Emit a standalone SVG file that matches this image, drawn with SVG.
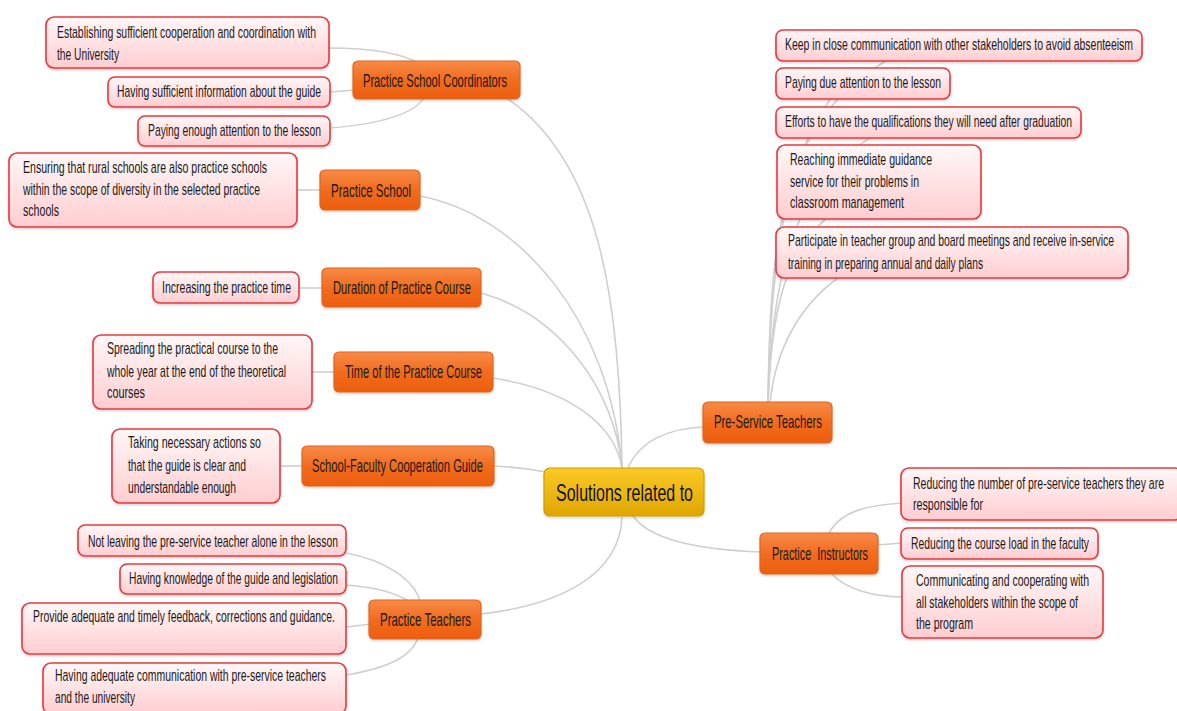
<svg xmlns="http://www.w3.org/2000/svg" width="1177" height="711" viewBox="0 0 1177 711">
<style>
.bg{fill:#ffffff}
.conn path{fill:none;stroke:#cfcfcf;stroke-width:1.6}
.leaf rect{fill:url(#pink);stroke:#e8383f;stroke-width:1.6;filter:url(#sh)}
.branch rect{fill:url(#orange);stroke:#e3651c;stroke-width:1.2;filter:url(#sh)}
.root rect{fill:url(#gold);stroke:#d19e00;stroke-width:1.2;filter:url(#sh)}
text{font-family:"Liberation Sans",Arial,sans-serif;fill:#1a1a1a}
.leaf text{font-size:16px}
.branch text{font-size:18px}
.root text{font-size:23px;fill:#111}
</style>
<defs>
<linearGradient id="pink" x1="0" y1="0" x2="0" y2="1"><stop offset="0" stop-color="#fff7f7"/><stop offset="1" stop-color="#ffcdd0"/></linearGradient>
<linearGradient id="orange" x1="0" y1="0" x2="0" y2="1"><stop offset="0" stop-color="#f68b48"/><stop offset="0.5" stop-color="#f26c1e"/><stop offset="1" stop-color="#ec5e0e"/></linearGradient>
<linearGradient id="gold" x1="0" y1="0" x2="0" y2="1"><stop offset="0" stop-color="#fbc928"/><stop offset="1" stop-color="#dfa600"/></linearGradient>
<filter id="sh" x="-10%" y="-20%" width="120%" height="150%"><feDropShadow dx="0" dy="1.5" stdDeviation="1.2" flood-color="#000" flood-opacity="0.18"/></filter>
</defs>
<rect class="bg" x="0" y="0" width="1177" height="711"/>

<g id="connectors" class="conn">
<path d="M622,468 C620,300 600,160 505,97"/>
<path d="M420,196 C520,215 610,320 622,468"/>
<path d="M481,293 C560,315 615,390 622,468"/>
<path d="M493,378 C570,390 615,425 622,468"/>
<path d="M494,466 C515,467 530,469 546,472"/>
<path d="M622,517 C620,575 560,605 481,614"/>
<path d="M628,468 C640,440 670,428 705,427"/>
<path d="M633,516 C650,540 700,550 762,552"/>
<path d="M329,48 C375,48 405,55 420,64"/>
<path d="M330,92 L355,90"/>
<path d="M330,128 C380,124 415,115 425,96"/>
<path d="M297,190 L322,190"/>
<path d="M299,288 L324,288"/>
<path d="M312,372 L336,372"/>
<path d="M279,466 L304,466"/>
<path d="M346,553 C385,560 415,580 420,602"/>
<path d="M346,585 C375,587 395,592 410,602"/>
<path d="M346,627 C355,626 362,625 371,624"/>
<path d="M346,675 C390,668 413,655 418,637"/>
<path d="M768,404 C770,200 790,110 905,50"/>
<path d="M768,404 C770,250 790,140 840,88"/>
<path d="M768,404 C772,260 800,170 885,130"/>
<path d="M768,404 C772,290 790,240 850,200"/>
<path d="M770,404 C775,350 800,300 850,270"/>
<path d="M828,535 C840,510 870,505 903,503"/>
<path d="M876,545 L903,543"/>
<path d="M830,572 C845,590 875,597 904,597"/>
</g>

<g id="root" class="root">
<rect x="544" y="468" width="160" height="48" rx="6"/>
<text transform="translate(556,501) scale(0.7,1)" textLength="195.7" lengthAdjust="spacingAndGlyphs">Solutions related to</text>
</g>

<g id="n-psc" class="branch">
<rect x="353" y="61" width="167" height="38" rx="5"/>
<text transform="translate(363,87) scale(0.63,1)" textLength="228.6" lengthAdjust="spacingAndGlyphs">Practice School Coordinators</text>
</g>
<g id="n-ps" class="branch">
<rect x="320" y="170" width="100" height="40" rx="5"/>
<text transform="translate(331,197) scale(0.63,1)" textLength="127" lengthAdjust="spacingAndGlyphs">Practice School</text>
</g>
<g id="n-dur" class="branch">
<rect x="322" y="268" width="159" height="39" rx="5"/>
<text transform="translate(333,294) scale(0.63,1)" textLength="219" lengthAdjust="spacingAndGlyphs">Duration of Practice Course</text>
</g>
<g id="n-time" class="branch">
<rect x="334" y="352" width="159" height="40" rx="5"/>
<text transform="translate(345,378) scale(0.63,1)" textLength="217.5" lengthAdjust="spacingAndGlyphs">Time of the Practice Course</text>
</g>
<g id="n-sfg" class="branch">
<rect x="302" y="446" width="192" height="40" rx="5"/>
<text transform="translate(312,472) scale(0.63,1)" textLength="271.4" lengthAdjust="spacingAndGlyphs">School-Faculty Cooperation Guide</text>
</g>
<g id="n-pt" class="branch">
<rect x="369" y="600" width="112" height="39" rx="5"/>
<text transform="translate(380,626) scale(0.63,1)" textLength="144.4" lengthAdjust="spacingAndGlyphs">Practice Teachers</text>
</g>
<g id="n-pst" class="branch">
<rect x="703" y="402" width="129" height="41" rx="5"/>
<text transform="translate(714,428) scale(0.63,1)" textLength="171.4" lengthAdjust="spacingAndGlyphs">Pre-Service Teachers</text>
</g>
<g id="n-pi" class="branch">
<rect x="760" y="533" width="118" height="41" rx="5"/>
<text transform="translate(772,560) scale(0.63,1)" textLength="152.4" lengthAdjust="spacingAndGlyphs" xml:space="preserve">Practice  Instructors</text>
</g>

<g id="l-psc1" class="leaf">
<rect x="46" y="17" width="283" height="51" rx="8"/>
<text transform="translate(57,38) scale(0.65,1)" textLength="398.5" lengthAdjust="spacingAndGlyphs">Establishing sufficient cooperation and coordination with</text>
<text transform="translate(57,60) scale(0.65,1)" textLength="95.4" lengthAdjust="spacingAndGlyphs">the University</text>
</g>
<g id="l-psc2" class="leaf">
<rect x="108" y="77" width="222" height="30" rx="7"/>
<text transform="translate(117,97) scale(0.65,1)" textLength="313.8" lengthAdjust="spacingAndGlyphs">Having sufficient information about the guide</text>
</g>
<g id="l-psc3" class="leaf">
<rect x="138" y="116" width="192" height="30" rx="7"/>
<text transform="translate(148,136) scale(0.65,1)" textLength="266.2" lengthAdjust="spacingAndGlyphs">Paying enough attention to the lesson</text>
</g>
<g id="l-ps1" class="leaf">
<rect x="9" y="153" width="288" height="74" rx="8"/>
<text transform="translate(23,173) scale(0.65,1)" textLength="375.4" lengthAdjust="spacingAndGlyphs">Ensuring that rural schools are also practice schools</text>
<text transform="translate(23,195) scale(0.65,1)" textLength="364.6" lengthAdjust="spacingAndGlyphs">within the scope of diversity in the selected practice</text>
<text transform="translate(23,216) scale(0.65,1)" textLength="55.4" lengthAdjust="spacingAndGlyphs">schools</text>
</g>
<g id="l-dur1" class="leaf">
<rect x="153" y="272" width="146" height="31" rx="7"/>
<text transform="translate(162,293) scale(0.65,1)" textLength="198.5" lengthAdjust="spacingAndGlyphs">Increasing the practice time</text>
</g>
<g id="l-time1" class="leaf">
<rect x="93" y="335" width="219" height="74" rx="8"/>
<text transform="translate(107,354) scale(0.65,1)" textLength="263.1" lengthAdjust="spacingAndGlyphs">Spreading the practical course to the</text>
<text transform="translate(107,377) scale(0.65,1)" textLength="275.4" lengthAdjust="spacingAndGlyphs">whole year at the end of the theoretical</text>
<text transform="translate(107,398) scale(0.65,1)" textLength="58.5" lengthAdjust="spacingAndGlyphs">courses</text>
</g>
<g id="l-sfg1" class="leaf">
<rect x="112" y="429" width="168" height="74" rx="8"/>
<text transform="translate(128,448) scale(0.65,1)" textLength="204.6" lengthAdjust="spacingAndGlyphs">Taking necessary actions so</text>
<text transform="translate(128,471) scale(0.65,1)" textLength="181.5" lengthAdjust="spacingAndGlyphs">that the guide is clear and</text>
<text transform="translate(128,493) scale(0.65,1)" textLength="166.2" lengthAdjust="spacingAndGlyphs">understandable enough</text>
</g>
<g id="l-pt1" class="leaf">
<rect x="78" y="525" width="268" height="31" rx="7"/>
<text transform="translate(88,547) scale(0.65,1)" textLength="384.6" lengthAdjust="spacingAndGlyphs">Not leaving the pre-service teacher alone in the lesson</text>
</g>
<g id="l-pt2" class="leaf">
<rect x="120" y="564" width="226" height="30" rx="7"/>
<text transform="translate(129,584) scale(0.65,1)" textLength="321.5" lengthAdjust="spacingAndGlyphs">Having knowledge of the guide and legislation</text>
</g>
<g id="l-pt3" class="leaf">
<rect x="22" y="603" width="324" height="51" rx="8"/>
<text transform="translate(33,622) scale(0.65,1)" textLength="464.6" lengthAdjust="spacingAndGlyphs">Provide adequate and timely feedback, corrections and guidance.</text>
</g>
<g id="l-pt4" class="leaf">
<rect x="43" y="663" width="303" height="51" rx="8"/>
<text transform="translate(55,681) scale(0.65,1)" textLength="416.9" lengthAdjust="spacingAndGlyphs">Having adequate communication with pre-service teachers</text>
<text transform="translate(55,703) scale(0.65,1)" textLength="123.1" lengthAdjust="spacingAndGlyphs">and the university</text>
</g>
<g id="l-pst1" class="leaf">
<rect x="776" y="30" width="366" height="31" rx="7"/>
<text transform="translate(785,50) scale(0.65,1)" textLength="535.4" lengthAdjust="spacingAndGlyphs">Keep in close communication with other stakeholders to avoid absenteeism</text>
</g>
<g id="l-pst2" class="leaf">
<rect x="776" y="68" width="174" height="31" rx="7"/>
<text transform="translate(785,88) scale(0.65,1)" textLength="240" lengthAdjust="spacingAndGlyphs">Paying due attention to the lesson</text>
</g>
<g id="l-pst3" class="leaf">
<rect x="776" y="107" width="305" height="31" rx="7"/>
<text transform="translate(785,127) scale(0.65,1)" textLength="441.5" lengthAdjust="spacingAndGlyphs">Efforts to have the qualifications they will need after graduation</text>
</g>
<g id="l-pst4" class="leaf">
<rect x="777" y="145" width="204" height="74" rx="8"/>
<text transform="translate(790,165) scale(0.65,1)" textLength="218.5" lengthAdjust="spacingAndGlyphs">Reaching immediate guidance</text>
<text transform="translate(790,187) scale(0.65,1)" textLength="198.5" lengthAdjust="spacingAndGlyphs">service for their problems in</text>
<text transform="translate(790,208) scale(0.65,1)" textLength="175.4" lengthAdjust="spacingAndGlyphs">classroom management</text>
</g>
<g id="l-pst5" class="leaf">
<rect x="776" y="227" width="352" height="51" rx="8"/>
<text transform="translate(788,246) scale(0.65,1)" textLength="501.5" lengthAdjust="spacingAndGlyphs">Participate in teacher group and board meetings and receive in-service</text>
<text transform="translate(788,269) scale(0.65,1)" textLength="300" lengthAdjust="spacingAndGlyphs">training in preparing annual and daily plans</text>
</g>
<g id="l-pi1" class="leaf">
<rect x="901" y="468" width="282" height="52" rx="8"/>
<text transform="translate(913,489) scale(0.65,1)" textLength="386.2" lengthAdjust="spacingAndGlyphs">Reducing the number of pre-service teachers they are</text>
<text transform="translate(913,510) scale(0.65,1)" textLength="107.7" lengthAdjust="spacingAndGlyphs">responsible for</text>
</g>
<g id="l-pi2" class="leaf">
<rect x="901" y="528" width="197" height="31" rx="7"/>
<text transform="translate(911,549) scale(0.65,1)" textLength="273.8" lengthAdjust="spacingAndGlyphs">Reducing the course load in the faculty</text>
</g>
<g id="l-pi3" class="leaf">
<rect x="902" y="566" width="201" height="72" rx="8"/>
<text transform="translate(916,586) scale(0.65,1)" textLength="266.2" lengthAdjust="spacingAndGlyphs">Communicating and cooperating with</text>
<text transform="translate(916,608) scale(0.65,1)" textLength="249.2" lengthAdjust="spacingAndGlyphs">all stakeholders within the scope of</text>
<text transform="translate(916,629) scale(0.65,1)" textLength="87.7" lengthAdjust="spacingAndGlyphs">the program</text>
</g>
</svg>
